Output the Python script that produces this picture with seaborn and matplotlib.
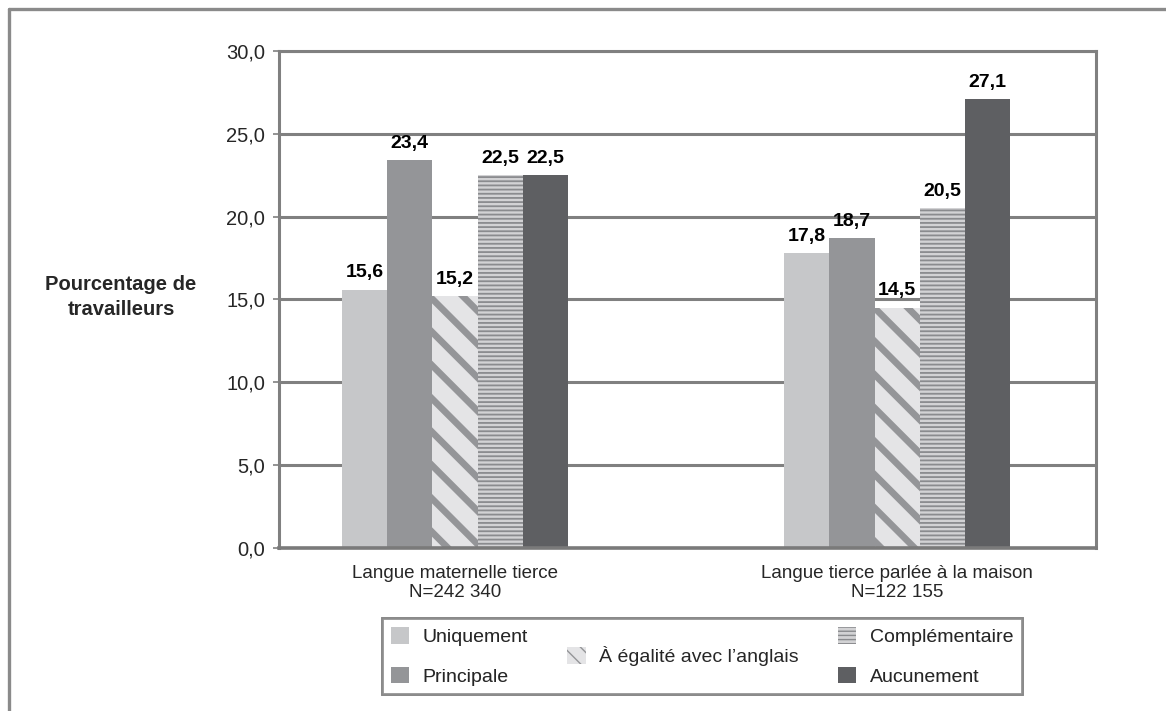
import pandas as pd
import matplotlib
import matplotlib.pyplot as plt
import matplotlib.patches as mpatches
from matplotlib.lines import Line2D
import seaborn as sns

# --- data ---
categories = ['Langue maternelle tierce\nN=242 340',
              'Langue tierce parlée à la maison\nN=122 155']
series = ['Uniquement', 'Principale', 'À égalité avec l’anglais',
          'Complémentaire', 'Aucunement']
uniquement = [15.6, 17.8]
principale = [23.4, 18.7]
egalite = [15.2, 14.5]
complementaire = [22.5, 20.5]
aucunement = [22.5, 27.1]
yticks = [0, 5, 10, 15, 20, 25, 30]

values = [uniquement, principale, egalite, complementaire, aucunement]
rows = []
for s, vals in zip(series, values):
    for c, v in zip(categories, vals):
        rows.append({'cat': c, 'serie': s, 'val': v})
df = pd.DataFrame(rows)

face = ['#c6c7c9', '#949598', '#e4e4e6', '#d2d2d4', '#5e5f62']
hatch_col = {2: '#949598', 3: '#8a8b8e'}
hatches = {2: '\\', 3: '----'}
hatch_lw = {2: 4.8, 3: 1.3}

sns.set_style('white')
plt.rcParams['font.family'] = ['Liberation Sans', 'DejaVu Sans']

fig = plt.figure(figsize=(11.66, 7.11), dpi=100)
ax = fig.add_axes([279 / 1166, 1 - 548 / 711, 817 / 1166, 497 / 711])

sns.barplot(data=df, x='cat', y='val', hue='serie', hue_order=series,
            order=categories, palette=face, width=0.51, saturation=1,
            legend=False, ax=ax, linewidth=0, errorbar=None)

for i, cont in enumerate(ax.containers):
    for bar in cont:
        bar.set_linewidth(0)
        if i in hatches:
            bar.set_hatch(hatches[i])
            bar.set_edgecolor(hatch_col[i])
            if hasattr(bar, 'set_hatch_linewidth'):
                bar.set_hatch_linewidth(hatch_lw[i])
    labs = [f'{v:.1f}'.replace('.', ',') for v in values[i]]
    ax.bar_label(cont, labels=labs, padding=6, fontsize=14,
                 fontweight='bold', color='black')

ax.set_xlim(-0.398, 1.45)
ax.set_ylim(0, 30)
ax.set_yticks(yticks)
ax.set_yticklabels([f'{t:.1f}'.replace('.', ',') for t in yticks], fontsize=14.5)
ax.tick_params(axis='y', length=4, width=1.2, color='#808080', pad=6, left=True)
ax.tick_params(axis='x', length=0, pad=12, labelsize=13.5)
for lab in ax.get_xticklabels():
    lab.set_multialignment('center')
ax.set_xlabel('')
ax.set_ylabel('')
ax.yaxis.grid(True, color='#808080', linewidth=2.2)
ax.set_axisbelow(True)
for side in ['left', 'right', 'top']:
    ax.spines[side].set_visible(True)
    ax.spines[side].set_color('#808080')
    ax.spines[side].set_linewidth(2.2)
ax.spines['bottom'].set_color('#7a7a7a')
ax.spines['bottom'].set_linewidth(2.6)

fig.text(121 / 1166, 1 - 297 / 711, 'Pourcentage de\ntravailleurs',
         ha='center', va='center', fontsize=14.5, fontweight='bold',
         multialignment='center', linespacing=1.35)

# outer frame (top and left only visible)
fig.add_artist(Line2D([9 / 1166, 1], [1 - 9 / 711, 1 - 9 / 711],
                      transform=fig.transFigure, color='#8a8a8a', lw=2.4))
fig.add_artist(Line2D([9 / 1166, 9 / 1166], [0, 1 - 9 / 711],
                      transform=fig.transFigure, color='#8a8a8a', lw=2.4))

# legend: three columns, middle entry centred vertically
def make_handle(i):
    p = mpatches.Patch(facecolor=face[i], linewidth=0)
    if i in hatches:
        p.set_hatch(hatches[i] * 2 if i == 2 else hatches[i])
        p.set_edgecolor(hatch_col[i])
        if hasattr(p, 'set_hatch_linewidth'):
            p.set_hatch_linewidth(2.4 if i == 2 else hatch_lw[i])
    return p

ghost = mpatches.Patch(facecolor='none', edgecolor='none')
handles = [make_handle(0), make_handle(1), ghost, ghost,
           make_handle(3), make_handle(4)]
labels = [series[0], series[1], series[2], '', series[3], series[4]]
leg_kw = dict(fontsize=14, handlelength=0.95, handleheight=0.95,
              handletextpad=0.7)
legA = fig.legend(handles, labels, ncol=3, loc='center',
                  bbox_to_anchor=(702 / 1166, 1 - 656 / 711),
                  frameon=True, fancybox=False, edgecolor='#808080',
                  columnspacing=2.0, labelspacing=1.05, borderpad=0.45,
                  **leg_kw)
legA.get_frame().set_linewidth(2)
legA.get_texts()[2].set_alpha(0)

fig.canvas.draw()
r = fig.canvas.get_renderer()
hb = legA.legend_handles[2].get_window_extent(r)
fb = legA.get_frame().get_window_extent(r)
x0, yc = fig.transFigure.inverted().transform((hb.x0, (fb.y0 + fb.y1) / 2))
legB = fig.legend([make_handle(2)], [series[2]], loc='center left',
                  bbox_to_anchor=(x0, yc), frameon=False, borderpad=0,
                  borderaxespad=0, **leg_kw)
fig.add_artist(legA)

fig.savefig('out.png', dpi=100)
